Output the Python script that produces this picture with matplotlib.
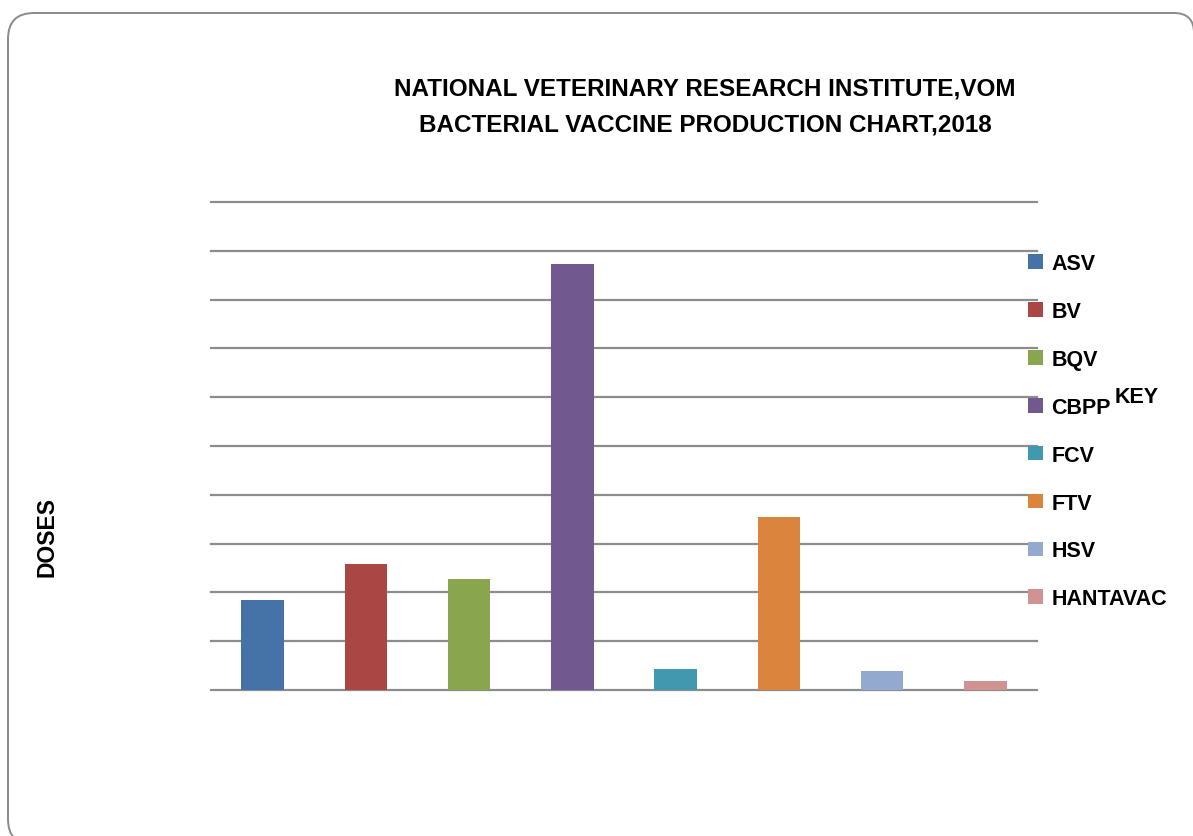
import numpy as np
import matplotlib.pyplot as plt
from matplotlib.path import Path
from matplotlib.patches import PathPatch

# values (gridline units, no scale is printed)
vaccines = ['ASV', 'BV', 'BQV', 'CBPP', 'FCV', 'FTV', 'HSV', 'HANTAVAC']
doses = [1.84, 2.59, 2.27, 8.73, 0.43, 3.55, 0.39, 0.18]
colors = ['#4572a7', '#aa4643', '#89a54e', '#71588f',
          '#4198af', '#db843d', '#93a9cf', '#d19392']

title_lines = ['NATIONAL VETERINARY RESEARCH INSTITUTE,VOM',
               'BACTERIAL VACCINE PRODUCTION CHART,2018']

plt.rcParams['font.family'] = ['Liberation Sans', 'DejaVu Sans']

W, H = 1193, 837
fig = plt.figure(figsize=(W / 100, H / 100), dpi=100)

# rounded outer frame (pixel coords from the top), cut off right and bottom
pts = [(1194, 34), (1194, 14), (1174, 14), (34, 14), (8, 14), (8, 40),
       (8, 820), (8, 846), (34, 846)]
codes = [Path.MOVETO, Path.CURVE3, Path.CURVE3, Path.LINETO, Path.CURVE3,
         Path.CURVE3, Path.LINETO, Path.CURVE3, Path.CURVE3]
frame_path = Path([(px, H - py) for px, py in pts], codes)
fig.patches.append(PathPatch(frame_path, transform=None, fill=False,
                             edgecolor='#8a8a8a', linewidth=1.4))

ax = fig.add_axes([211 / W, (H - 691) / H, 826 / W, 488 / H])
x = np.arange(len(vaccines))
bars = ax.bar(x, doses, width=0.41, color=colors, zorder=3)

ax.set_xlim(-0.5, len(vaccines) - 0.5)
ax.set_ylim(0, 10)
ax.set_yticks(np.arange(0, 11, 1))
ax.yaxis.grid(True, color='#8c8c8c', linewidth=1.6, zorder=0)
for gl in ax.get_ygridlines():
    gl.set_clip_on(False)
ax.set_xticks([])
ax.tick_params(axis='y', length=0, labelleft=False)
for s in ax.spines.values():
    s.set_visible(False)

fig.text(705 / W, 1 - 89 / H, title_lines[0], ha='center', va='center',
         fontsize=17.5, fontweight='bold')
fig.text(705 / W, 1 - 125 / H, title_lines[1], ha='center', va='center',
         fontsize=17.5, fontweight='bold')

fig.text(47 / W, 1 - 537 / H, 'DOSES', rotation=90, ha='center', va='center',
         fontsize=16.5, fontweight='bold')
fig.text(1137 / W, 1 - 398 / H, 'KEY', ha='center', va='center',
         fontsize=15.5, fontweight='bold')

leg = fig.legend(bars, vaccines, loc='upper left',
                 bbox_to_anchor=(1028 / W, 1 - 254 / H),
                 frameon=False, fontsize=15.5, handlelength=0.68,
                 handleheight=0.68, handletextpad=0.4, labelspacing=1.25,
                 borderpad=0, borderaxespad=0)
for t in leg.get_texts():
    t.set_fontweight('bold')

fig.savefig('out.png', dpi=100)
